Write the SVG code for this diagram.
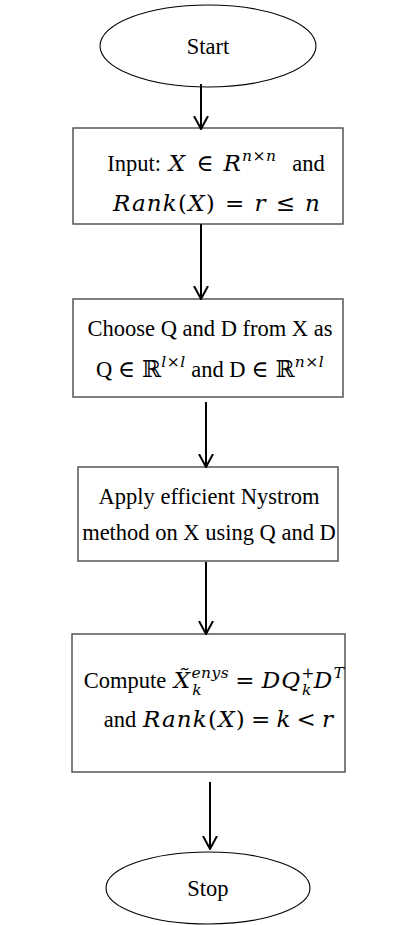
<svg xmlns="http://www.w3.org/2000/svg" width="420" height="925" viewBox="0 0 420 925">
<defs>
<style>
text{font-family:"Liberation Serif","Times New Roman",serif;font-size:22.5px;fill:#000}
.m{font-style:italic;font-family:"DejaVu Serif","Liberation Serif",serif;font-size:23px;letter-spacing:1.2px}
.u{font-family:"DejaVu Serif","Liberation Serif",serif;font-size:23px;letter-spacing:1.2px}
.s{font-size:15.5px;letter-spacing:0.5px}
.box{fill:#fff;stroke:#555;stroke-width:1.5}
.ell{fill:#fff;stroke:#000;stroke-width:1.1}
.arr{fill:none;stroke:#000;stroke-width:2}
</style>
<marker id="ah" markerWidth="14" markerHeight="16" refX="13" refY="8" orient="auto" markerUnits="userSpaceOnUse" viewBox="0 0 14 16">
<path d="M0,1 L13,8 L0,15" fill="none" stroke="#000" stroke-width="2"/>
</marker>
</defs>
<g id="start">
<ellipse class="ell" cx="208" cy="46" rx="108" ry="41"/>
<text x="208" y="54" text-anchor="middle">Start</text>
</g>
<g id="input">
<rect class="box" x="73" y="128" width="270" height="96"/>
<text x="216" y="171" text-anchor="middle">Input: <tspan class="m" dx="2">X</tspan><tspan class="u" dx="10">∈</tspan><tspan class="m" dx="9">R</tspan><tspan class="m s" dy="-10">n×n</tspan><tspan dx="10" dy="10"> and</tspan></text>
<text x="217" y="211" text-anchor="middle"><tspan class="m">Rank</tspan><tspan class="u">(</tspan><tspan class="m">X</tspan><tspan class="u">)</tspan><tspan class="u" dx="9">=</tspan><tspan class="m" dx="9">r</tspan><tspan class="u" dx="9">≤</tspan><tspan class="m" dx="9">n</tspan></text>
</g>
<g id="choose">
<rect class="box" x="73" y="299" width="270" height="98"/>
<text x="210" y="336" text-anchor="middle">Choose Q and D from X as</text>
<text x="210" y="377" text-anchor="middle">Q <tspan class="u" style="letter-spacing:0">∈ ℝ</tspan><tspan class="m s" dy="-10">l×l</tspan><tspan dy="10"> and D </tspan><tspan class="u" style="letter-spacing:0">∈ ℝ</tspan><tspan class="m s" dy="-10">n×l</tspan></text>
</g>
<g id="apply">
<rect class="box" x="78" y="467" width="260" height="94"/>
<text x="209" y="504" text-anchor="middle">Apply efficient Nystrom</text>
<text x="209" y="540" text-anchor="middle">method on X using Q and D</text>
</g>
<g id="compute">
<rect class="box" x="72" y="634" width="273" height="138"/>
<text x="214" y="688" text-anchor="middle">Compute  <tspan class="m" dx="2">X̃</tspan><tspan class="m s" dy="-10">enys</tspan><tspan class="m s" dx="-37" dy="17">k</tspan><tspan class="u" dx="33" dy="-7">=</tspan><tspan class="m" dx="6">DQ</tspan><tspan class="m s" dy="-10">+</tspan><tspan class="m s" dx="-13" dy="17">k</tspan><tspan class="m" dx="2" dy="-7">D</tspan><tspan class="m s" dy="-10">T</tspan></text>
<text x="219" y="727" text-anchor="middle">and  <tspan class="m" dx="1">Rank</tspan><tspan class="u">(</tspan><tspan class="m">X</tspan><tspan class="u">)</tspan><tspan class="u" dx="5">=</tspan><tspan class="m" dx="5">k</tspan><tspan class="u" dx="5">&lt;</tspan><tspan class="m" dx="5">r</tspan></text>
</g>
<g id="stop">
<ellipse class="ell" cx="208" cy="888" rx="102" ry="36"/>
<text x="208" y="896" text-anchor="middle">Stop</text>
</g>
<g id="connectors">
<line class="arr" x1="201" y1="84" x2="201" y2="129" marker-end="url(#ah)"/>
<line class="arr" x1="201" y1="224" x2="201" y2="299" marker-end="url(#ah)"/>
<line class="arr" x1="206" y1="402" x2="206" y2="467" marker-end="url(#ah)"/>
<line class="arr" x1="206" y1="562" x2="206" y2="634" marker-end="url(#ah)"/>
<line class="arr" x1="210" y1="782" x2="210" y2="849" marker-end="url(#ah)"/>
</g>
</svg>
